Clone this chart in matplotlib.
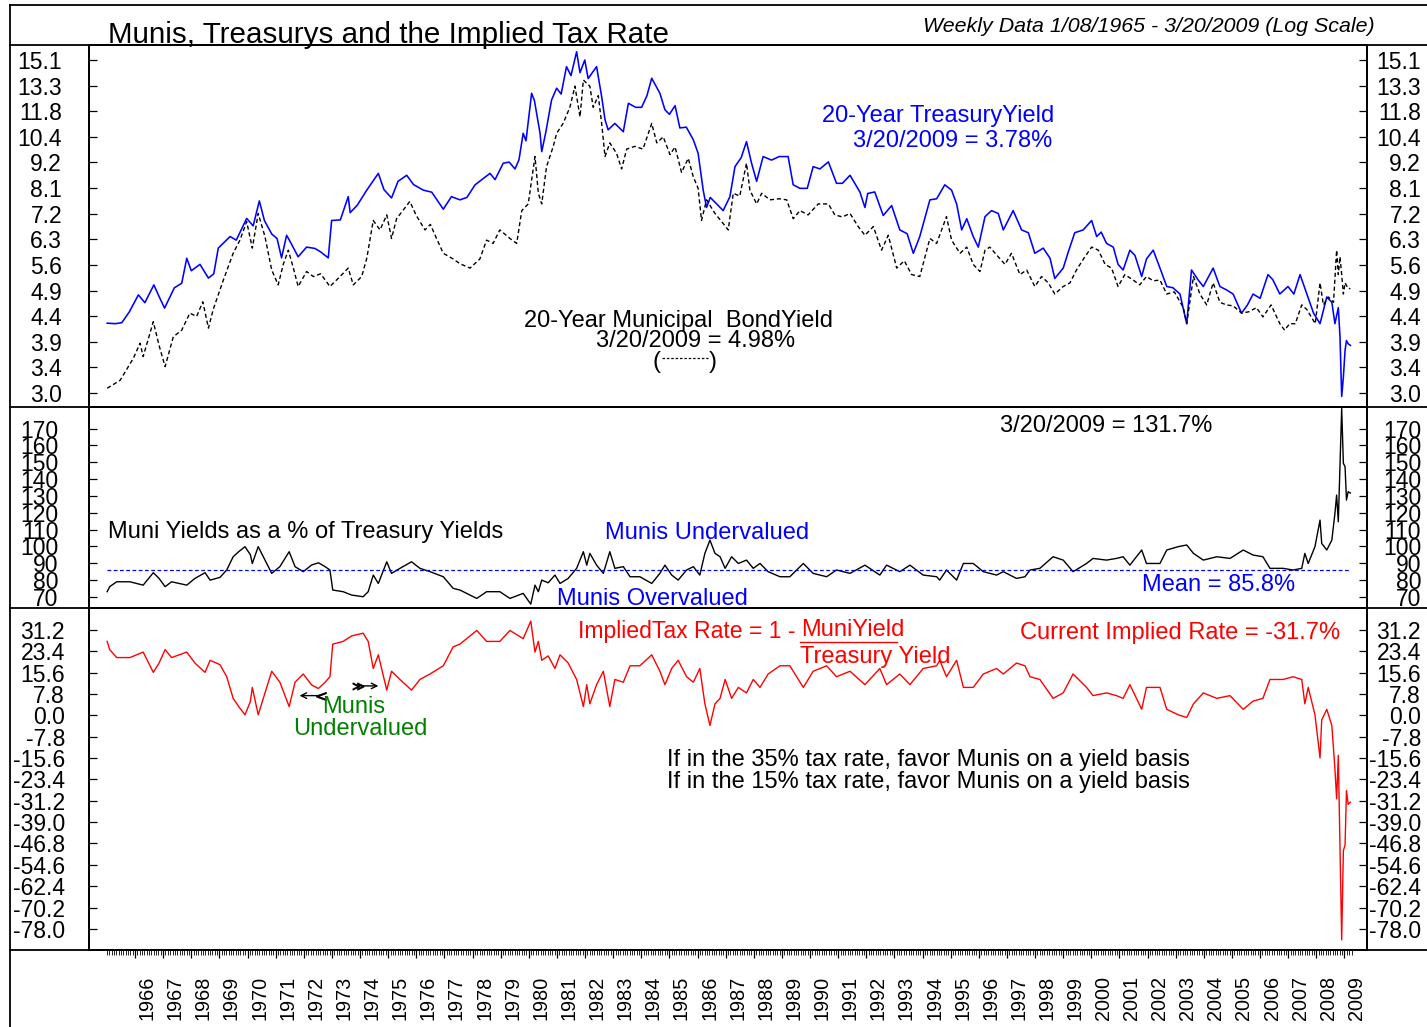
"""
Munis, Treasurys and the Implied Tax Rate - three stacked panels
(yields on log scale, muni/treasury ratio, implied tax rate).
"""

import numpy as np
import matplotlib
matplotlib.use("Agg")
import matplotlib.pyplot as plt
import matplotlib.ticker as mticker
from matplotlib.lines import Line2D
from matplotlib.transforms import ScaledTranslation

plt.rcParams["font.family"] = ["Liberation Sans", "DejaVu Sans"]

# --- data (decimal years) --------------------------------------------------
tre_yr = [1965.01, 1965.30, 1965.53, 1965.80, 1966.12, 1966.35, 1966.67, 1966.85, 1967.05, 1967.40,
          1967.66, 1967.84, 1968.00, 1968.31, 1968.61, 1968.80, 1968.96, 1969.38, 1969.60, 1969.97,
          1970.20, 1970.42, 1970.60, 1970.86, 1971.05, 1971.21, 1971.39, 1971.55, 1971.80, 1972.10,
          1972.40, 1972.60, 1972.87, 1972.99, 1973.30, 1973.58, 1973.65, 1973.90, 1974.24, 1974.65,
          1974.85, 1975.12, 1975.35, 1975.66, 1975.90, 1976.25, 1976.55, 1976.96, 1977.25, 1977.55,
          1977.80, 1978.09, 1978.62, 1978.80, 1979.09, 1979.30, 1979.51, 1979.65, 1979.80, 1979.90,
          1980.10, 1980.20, 1980.40, 1980.46, 1980.60, 1980.81, 1980.99, 1981.15, 1981.34, 1981.50,
          1981.70, 1981.82, 1981.99, 1982.11, 1982.41, 1982.59, 1982.71, 1982.82, 1983.06, 1983.36,
          1983.54, 1983.80, 1984.01, 1984.20, 1984.37, 1984.66, 1984.84, 1985.00, 1985.20, 1985.37,
          1985.60, 1985.85, 1986.02, 1986.20, 1986.32, 1986.45, 1986.68, 1986.91, 1987.15, 1987.33,
          1987.55, 1987.74, 1987.92, 1988.10, 1988.33, 1988.63, 1988.90, 1989.22, 1989.40, 1989.64,
          1989.90, 1990.11, 1990.35, 1990.65, 1990.94, 1991.15, 1991.42, 1991.77, 1991.95, 1992.05,
          1992.30, 1992.60, 1992.90, 1993.19, 1993.45, 1993.67, 1993.90, 1994.26, 1994.50, 1994.79,
          1995.03, 1995.21, 1995.39, 1995.57, 1995.80, 1995.98, 1996.22, 1996.45, 1996.69, 1996.87,
          1997.22, 1997.52, 1997.76, 1997.99, 1998.29, 1998.53, 1998.70, 1999.00, 1999.18, 1999.41,
          1999.71, 2000.01, 2000.19, 2000.35, 2000.54, 2000.78, 2000.95, 2001.13, 2001.37, 2001.55,
          2001.79, 2001.96, 2002.20, 2002.44, 2002.68, 2002.90, 2003.15, 2003.39, 2003.56, 2003.80,
          2003.98, 2004.33, 2004.57, 2004.80, 2005.04, 2005.34, 2005.55, 2005.75, 2006.00, 2006.28,
          2006.45, 2006.70, 2006.99, 2007.20, 2007.42, 2007.66, 2007.90, 2008.13, 2008.37, 2008.55,
          2008.66, 2008.78, 2008.84, 2008.90, 2008.96, 2009.02, 2009.07, 2009.13, 2009.21]
treasury = [4.21, 4.20, 4.22, 4.45, 4.83, 4.65, 5.07, 4.80, 4.53, 5.00,
            5.11, 5.77, 5.43, 5.60, 5.24, 5.35, 6.06, 6.41, 6.30, 7.00,
            6.75, 7.62, 6.93, 6.49, 6.35, 5.78, 6.45, 6.20, 5.81, 6.09,
            6.05, 5.95, 5.78, 6.93, 6.95, 7.78, 7.20, 7.46, 8.03, 8.71,
            8.05, 7.73, 8.38, 8.63, 8.25, 8.03, 7.95, 7.32, 7.78, 7.66,
            7.75, 8.24, 8.71, 8.45, 9.15, 9.20, 8.90, 9.30, 10.58, 10.20,
            12.85, 12.40, 10.58, 9.68, 10.60, 12.44, 13.17, 12.80, 14.62, 14.00,
            15.72, 14.20, 15.10, 13.80, 14.62, 12.64, 11.30, 10.76, 11.10, 10.66,
            12.24, 12.00, 12.00, 12.70, 13.82, 12.85, 11.86, 11.60, 12.10, 10.86,
            10.90, 10.25, 9.60, 8.03, 7.38, 7.75, 7.51, 7.27, 7.78, 9.00,
            9.40, 10.16, 9.15, 8.38, 9.45, 9.29, 9.45, 9.45, 8.24, 8.10,
            8.10, 9.00, 8.90, 9.21, 8.30, 8.30, 8.63, 7.96, 7.38, 7.90,
            7.96, 7.10, 7.45, 6.62, 6.50, 5.91, 6.41, 7.66, 7.70, 8.24,
            8.03, 7.51, 6.62, 6.99, 6.41, 6.09, 7.06, 7.27, 7.17, 6.62,
            7.27, 6.62, 6.53, 5.91, 6.06, 5.77, 5.23, 5.50, 5.95, 6.53,
            6.62, 6.93, 6.41, 6.55, 6.20, 6.09, 5.60, 5.45, 6.00, 5.85,
            5.28, 5.75, 6.00, 5.50, 5.03, 5.00, 4.85, 4.20, 5.45, 5.19,
            5.03, 5.50, 5.03, 4.95, 4.85, 4.42, 4.60, 4.85, 4.75, 5.33,
            5.20, 4.85, 5.03, 4.85, 5.33, 4.85, 4.42, 4.20, 4.78, 4.66,
            4.20, 4.54, 3.94, 2.95, 3.24, 3.69, 3.87, 3.81, 3.78]

muni_yr = [1965.01, 1965.47, 1965.94, 1966.18, 1966.29, 1966.65, 1966.86, 1967.07, 1967.36, 1967.66,
           1967.95, 1968.19, 1968.41, 1968.61, 1968.78, 1969.14, 1969.49, 1969.73, 1969.97, 1970.17,
           1970.38, 1970.62, 1970.86, 1971.09, 1971.27, 1971.45, 1971.63, 1971.80, 1972.10, 1972.34,
           1972.60, 1972.93, 1973.29, 1973.58, 1973.76, 1974.06, 1974.24, 1974.47, 1974.71, 1974.95,
           1975.12, 1975.30, 1975.77, 1976.00, 1976.31, 1976.50, 1976.72, 1976.96, 1977.31, 1977.55,
           1977.91, 1978.26, 1978.50, 1978.73, 1978.97, 1979.33, 1979.57, 1979.75, 1979.98, 1980.22,
           1980.34, 1980.46, 1980.63, 1980.87, 1980.99, 1981.22, 1981.46, 1981.64, 1981.82, 1981.94,
           1982.17, 1982.29, 1982.47, 1982.59, 1982.71, 1982.88, 1983.12, 1983.30, 1983.48, 1983.77,
           1984.06, 1984.37, 1984.55, 1984.78, 1985.02, 1985.20, 1985.43, 1985.67, 1985.85, 1986.02,
           1986.14, 1986.32, 1986.62, 1986.91, 1987.09, 1987.27, 1987.50, 1987.74, 1987.86, 1988.10,
           1988.28, 1988.57, 1988.90, 1989.17, 1989.40, 1989.64, 1989.93, 1990.29, 1990.65, 1990.88,
           1991.15, 1991.42, 1991.71, 1991.95, 1992.25, 1992.54, 1992.78, 1993.08, 1993.35, 1993.61,
           1993.90, 1994.26, 1994.50, 1994.85, 1995.03, 1995.33, 1995.57, 1995.80, 1996.04, 1996.22,
           1996.39, 1996.69, 1996.93, 1997.16, 1997.46, 1997.70, 1997.99, 1998.23, 1998.47, 1998.70,
           1999.00, 1999.24, 1999.47, 1999.77, 2000.01, 2000.25, 2000.49, 2000.72, 2000.95, 2001.19,
           2001.49, 2001.72, 2001.96, 2002.20, 2002.44, 2002.68, 2002.95, 2003.27, 2003.39, 2003.63,
           2003.86, 2004.10, 2004.33, 2004.57, 2004.80, 2005.04, 2005.34, 2005.60, 2005.87, 2006.10,
           2006.39, 2006.70, 2006.87, 2007.05, 2007.25, 2007.48, 2007.66, 2007.96, 2008.13, 2008.25,
           2008.43, 2008.61, 2008.72, 2008.78, 2008.84, 2008.90, 2008.96, 2009.02, 2009.13, 2009.21]
muni = [3.07, 3.19, 3.55, 3.82, 3.58, 4.24, 3.77, 3.41, 3.94, 4.07,
        4.42, 4.35, 4.67, 4.11, 4.50, 5.19, 5.91, 6.30, 6.89, 6.06,
        7.17, 6.41, 5.45, 5.07, 5.60, 6.00, 5.50, 5.03, 5.41, 5.28,
        5.35, 5.03, 5.28, 5.50, 5.07, 5.28, 5.77, 6.93, 6.62, 7.12,
        6.35, 6.99, 7.60, 7.10, 6.62, 6.80, 6.35, 5.91, 5.75, 5.62,
        5.50, 5.75, 6.30, 6.20, 6.62, 6.35, 6.20, 7.27, 7.51, 9.45,
        7.91, 7.51, 9.00, 9.93, 10.58, 11.10, 12.00, 13.30, 11.46, 13.70,
        13.30, 12.00, 12.70, 11.10, 9.45, 10.10, 9.60, 8.90, 9.80, 9.93,
        9.80, 11.10, 10.10, 10.40, 9.54, 9.90, 8.75, 9.37, 8.56, 8.10,
        6.93, 7.66, 7.17, 6.83, 6.62, 7.91, 7.80, 9.15, 8.03, 7.51,
        7.91, 7.66, 7.70, 7.66, 6.99, 7.27, 7.12, 7.51, 7.51, 7.12,
        7.05, 7.17, 6.73, 6.45, 6.73, 6.00, 6.45, 5.50, 5.70, 5.33,
        5.28, 6.35, 6.20, 7.06, 6.30, 5.91, 6.09, 5.60, 5.41, 6.00,
        6.09, 5.81, 5.60, 5.91, 5.33, 5.45, 5.03, 5.28, 5.12, 4.85,
        5.03, 5.12, 5.45, 5.81, 6.09, 6.00, 5.60, 5.50, 5.03, 5.33,
        5.19, 5.07, 5.28, 5.17, 5.19, 4.85, 4.90, 4.54, 4.20, 5.28,
        4.85, 4.60, 5.12, 4.66, 4.60, 4.58, 4.42, 4.45, 4.54, 4.34,
        4.60, 4.20, 4.07, 4.20, 4.20, 4.60, 4.50, 4.20, 5.12, 4.60,
        4.78, 4.66, 6.00, 5.33, 5.81, 5.33, 4.85, 5.12, 4.98, 4.98]

ratio_yr = [1965.01, 1965.10, 1965.35, 1965.82, 1966.29, 1966.65, 1966.85, 1967.07, 1967.30, 1967.84,
            1968.13, 1968.49, 1968.67, 1969.02, 1969.26, 1969.49, 1969.70, 1969.91, 1970.10, 1970.17,
            1970.38, 1970.62, 1970.86, 1971.15, 1971.48, 1971.69, 1971.98, 1972.28, 1972.52, 1972.75,
            1972.93, 1973.03, 1973.40, 1973.70, 1974.11, 1974.29, 1974.47, 1974.65, 1974.95, 1975.12,
            1975.42, 1975.83, 1976.13, 1976.49, 1976.96, 1977.31, 1977.55, 1977.79, 1978.15, 1978.50,
            1978.97, 1979.33, 1979.80, 1980.07, 1980.22, 1980.34, 1980.46, 1980.69, 1980.93, 1981.11,
            1981.40, 1981.70, 1981.94, 1982.06, 1982.17, 1982.41, 1982.65, 1982.88, 1983.06, 1983.36,
            1983.60, 1983.95, 1984.37, 1984.66, 1984.84, 1985.08, 1985.31, 1985.61, 1985.85, 1986.08,
            1986.26, 1986.44, 1986.62, 1986.80, 1986.98, 1987.21, 1987.45, 1987.74, 1987.98, 1988.22,
            1988.51, 1988.93, 1989.28, 1989.76, 1990.11, 1990.59, 1990.94, 1991.42, 1991.95, 1992.48,
            1992.72, 1993.19, 1993.55, 1994.02, 1994.50, 1994.61, 1994.85, 1995.21, 1995.45, 1995.80,
            1996.16, 1996.63, 1996.87, 1997.34, 1997.64, 1997.82, 1998.17, 1998.64, 1999.00, 1999.35,
            1999.83, 2000.06, 2000.54, 2000.89, 2001.13, 2001.37, 2001.79, 2001.96, 2002.44, 2002.68,
            2003.09, 2003.39, 2003.63, 2003.98, 2004.46, 2004.93, 2005.40, 2005.75, 2006.10, 2006.35,
            2006.82, 2007.17, 2007.48, 2007.59, 2007.71, 2007.95, 2008.13, 2008.19, 2008.37, 2008.55,
            2008.66, 2008.72, 2008.78, 2008.84, 2008.90, 2008.96, 2009.02, 2009.07, 2009.13, 2009.21]
ratio = [73.0, 76.0, 78.9, 78.9, 76.9, 84.3, 81.0, 76.0, 78.9, 76.9,
         80.9, 84.3, 79.9, 81.5, 85.9, 93.8, 97.0, 99.8, 95.0, 89.8,
         99.8, 91.8, 83.9, 87.9, 96.8, 87.9, 84.9, 88.9, 90.2, 88.0,
         85.9, 74.0, 73.0, 71.0, 70.0, 73.0, 82.9, 77.9, 90.8, 83.9,
         86.9, 90.8, 86.9, 84.9, 81.9, 75.0, 74.0, 72.0, 69.0, 73.0,
         73.0, 69.0, 72.0, 65.6, 76.9, 73.0, 79.9, 78.3, 82.9, 77.9,
         80.9, 86.9, 96.8, 88.8, 95.8, 88.8, 83.9, 96.8, 86.9, 87.9,
         81.9, 81.9, 77.9, 83.9, 88.8, 82.9, 79.9, 85.9, 87.9, 82.9,
         95.8, 103.7, 95.8, 93.8, 86.9, 93.8, 89.8, 91.8, 86.9, 89.8,
         84.9, 81.9, 81.9, 89.8, 83.9, 81.9, 85.9, 83.9, 88.8, 82.9,
         88.8, 84.9, 88.8, 82.9, 81.9, 79.9, 85.9, 79.9, 89.8, 89.8,
         84.9, 82.9, 84.9, 80.9, 81.9, 85.9, 86.9, 93.8, 91.8, 84.9,
         89.8, 92.8, 91.8, 92.8, 93.8, 88.8, 97.8, 89.8, 89.8, 97.8,
         99.8, 100.8, 95.8, 91.8, 93.8, 92.8, 97.8, 94.8, 93.8, 86.9,
         86.9, 85.9, 86.9, 95.8, 89.8, 99.8, 115.6, 101.7, 97.8, 103.7,
         119.6, 130.5, 114.6, 147.4, 182.0, 149.4, 147.4, 127.5, 132.5, 131.7]
ratio_mean = 85.8

# implied tax rate = 1 - muni / treasury, in percent
implied = [100.0 - r for r in ratio]

top_ticks = ["3.0", "3.4", "3.9", "4.4", "4.9", "5.6", "6.3", "7.2", "8.1", "9.2",
             "10.4", "11.8", "13.3", "15.1"]
mid_ticks = [70, 80, 90, 100, 110, 120, 130, 140, 150, 160, 170]
low_ticks = ["31.2", "23.4", "15.6", "7.8", "0.0", "-7.8", "-15.6", "-23.4", "-31.2", "-39.0",
             "-46.8", "-54.6", "-62.4", "-70.2", "-78.0"]
years = list(range(1966, 2010))

# --- layout ----------------------------------------------------------------
W, H = 1427, 1027
fig = plt.figure(figsize=(W / 100, H / 100), dpi=100)


def fx(px):
    return px / W


def fy(py):
    return 1 - py / H


def panel(top, bottom):
    return fig.add_axes([fx(89), fy(bottom), (1367 - 89) / W, (bottom - top) / H])


XLIM = (1964.364, 2009.80)
LAB = 16.5


def style_y(ax, ticks, labels, ylim, pad_left, log=False):
    axr = ax.twinx()
    for a in (ax, axr):
        if log:
            a.set_yscale("log")
        a.set_ylim(ylim)
        a.set_yticks(ticks)
        a.set_yticklabels(labels)
        a.yaxis.set_minor_locator(mticker.NullLocator())
        for s in a.spines.values():
            s.set_linewidth(1.3)
    ax.set_xlim(XLIM)
    ax.tick_params(axis="y", direction="in", length=5.5, width=0.9, labelsize=LAB, pad=pad_left)
    axr.tick_params(axis="y", direction="in", length=5.5, width=0.9, labelsize=LAB, pad=38.9)
    for lab in axr.get_yticklabels():
        lab.set_ha("right")
    return axr


ax1 = panel(45, 407)
ax2 = panel(407, 608)
ax3 = panel(608, 950)

# top: yields (log)
top_vals = np.geomspace(3.0, 15.1, len(top_ticks))
style_y(ax1, top_vals, top_ticks, (2.803, 16.24), 19.4, log=True)
ax1.plot(tre_yr, treasury, color="#0000FF", lw=1.15)
ax1.plot(muni_yr, muni, color="black", lw=1.0, ls=(0, (3, 2)))
ax1.tick_params(axis="x", bottom=False, labelbottom=False)

# middle: ratio
style_y(ax2, mid_ticks, [str(t) for t in mid_ticks], (63.3, 182.9), 22.0)
ax2.plot(ratio_yr, ratio, color="black", lw=1.0)
ax2.hlines(ratio_mean, ratio_yr[0], ratio_yr[-1], color="#0000FF", lw=0.9, linestyles=(0, (3, 2)))
ax2.tick_params(axis="x", bottom=False, labelbottom=False)

# bottom: implied tax rate
low_vals = [float(t) for t in low_ticks]
style_y(ax3, low_vals, low_ticks, (-85.7, 39.2), 17.3)
ax3.plot(ratio_yr, implied, color="#FF0000", lw=1.0)

ax3.set_xticks(years)
ax3.set_xticklabels([str(y) for y in years], rotation=90, fontsize=14.3)
months = np.arange(1965.0, 2009.26, 1 / 12)
ax3.xaxis.set_minor_locator(mticker.FixedLocator(months))
ax3.tick_params(axis="x", which="major", direction="out", length=5.8, width=0.9, pad=13.0)
ax3.tick_params(axis="x", which="minor", direction="out", length=3.6, width=0.6)
shift = ScaledTranslation(0.12, 0, fig.dpi_scale_trans)
for lab in ax3.get_xticklabels():
    lab.set_transform(lab.get_transform() + shift)

# arrows by "Munis Undervalued" (with small fletching at the tail)
ax3.annotate("", xy=(1971.75, 7.2), xytext=(1972.68, 7.2),
             arrowprops=dict(arrowstyle="->", lw=1.0, color="black"))
ax3.plot([1972.62], [7.2], marker=r"$<$", ms=7, color="black", mew=0.6)
ax3.annotate("", xy=(1974.75, 10.75), xytext=(1973.86, 10.75),
             arrowprops=dict(arrowstyle="->", lw=1.0, color="black"))
ax3.plot([1973.92], [10.75], marker=r"$\gg$", ms=8, color="black", mew=0.6)

# --- frame lines -----------------------------------------------------------
frame = dict(color="black", lw=1.3)
fig.add_artist(Line2D([fx(10), fx(10)], [fy(5), fy(1027)], **frame))
for py in (5, 45, 407, 608, 950):
    fig.add_artist(Line2D([fx(10), fx(1427)], [fy(py), fy(py)], **frame))

# --- text ------------------------------------------------------------------
fig.text(fx(108), fy(42.7), "Munis, Treasurys and the Implied Tax Rate", fontsize=21.3, va="baseline")
fig.text(fx(1375), fy(31.7), "Weekly Data 1/08/1965 - 3/20/2009 (Log Scale)", fontsize=15.4,
         style="italic", ha="right", va="baseline")

A = 17
fig.text(fx(938), fy(121.7), "20-Year TreasuryYield", color="#0000FF", fontsize=A, ha="center", va="baseline")
fig.text(fx(953), fy(146.7), "3/20/2009 = 3.78%", color="#0000FF", fontsize=A, ha="center", va="baseline")
fig.text(fx(679), fy(326.7), "20-Year Municipal  BondYield", fontsize=A, ha="center", va="baseline")
fig.text(fx(696), fy(346.7), "3/20/2009 = 4.98%", fontsize=A, ha="center", va="baseline")
fig.text(fx(657), fy(368), "(", fontsize=A, ha="center", va="baseline")
fig.text(fx(713), fy(368), ")", fontsize=A, ha="center", va="baseline")
fig.add_artist(Line2D([fx(662), fx(708)], [fy(358), fy(358)], color="black", lw=0.9, ls=(0, (2, 1.5))))

fig.text(fx(1106), fy(432.3), "3/20/2009 = 131.7%", fontsize=A, ha="center", va="baseline")
fig.text(fx(108), fy(538.3), "Muni Yields as a % of Treasury Yields", fontsize=A, va="baseline")
fig.text(fx(707), fy(539.3), "Munis Undervalued", color="#0000FF", fontsize=A, ha="center", va="baseline")
fig.text(fx(652), fy(605), "Munis Overvalued", color="#0000FF", fontsize=A, ha="center", va="baseline")
fig.text(fx(1219), fy(591), "Mean = 85.8%", color="#0000FF", fontsize=A, ha="center", va="baseline")

fig.text(fx(578), fy(638.3), "ImpliedTax Rate = 1 -", color="#FF0000", fontsize=16.6, va="baseline")
fig.text(fx(801), fy(636), "MuniYield", color="#FF0000", fontsize=A, va="baseline")
fig.add_artist(Line2D([fx(800), fx(897)], [fy(641.7), fy(641.7)], color="#FF0000", lw=1.0))
fig.text(fx(800), fy(663.3), "Treasury Yield", color="#FF0000", fontsize=A, va="baseline")
fig.text(fx(1340), fy(639.3), "Current Implied Rate = -31.7%", color="#FF0000", fontsize=A,
         ha="right", va="baseline")

fig.text(fx(354), fy(713.3), "Munis", color="#008000", fontsize=A, ha="center", va="baseline")
fig.text(fx(360), fy(735), "Undervalued", color="#008000", fontsize=A, ha="center", va="baseline")

fig.text(fx(667), fy(765.7), "If in the 35% tax rate, favor Munis on a yield basis", fontsize=A, va="baseline")
fig.text(fx(667), fy(788.3), "If in the 15% tax rate, favor Munis on a yield basis", fontsize=A, va="baseline")

fig.savefig("out.png", dpi=100)
